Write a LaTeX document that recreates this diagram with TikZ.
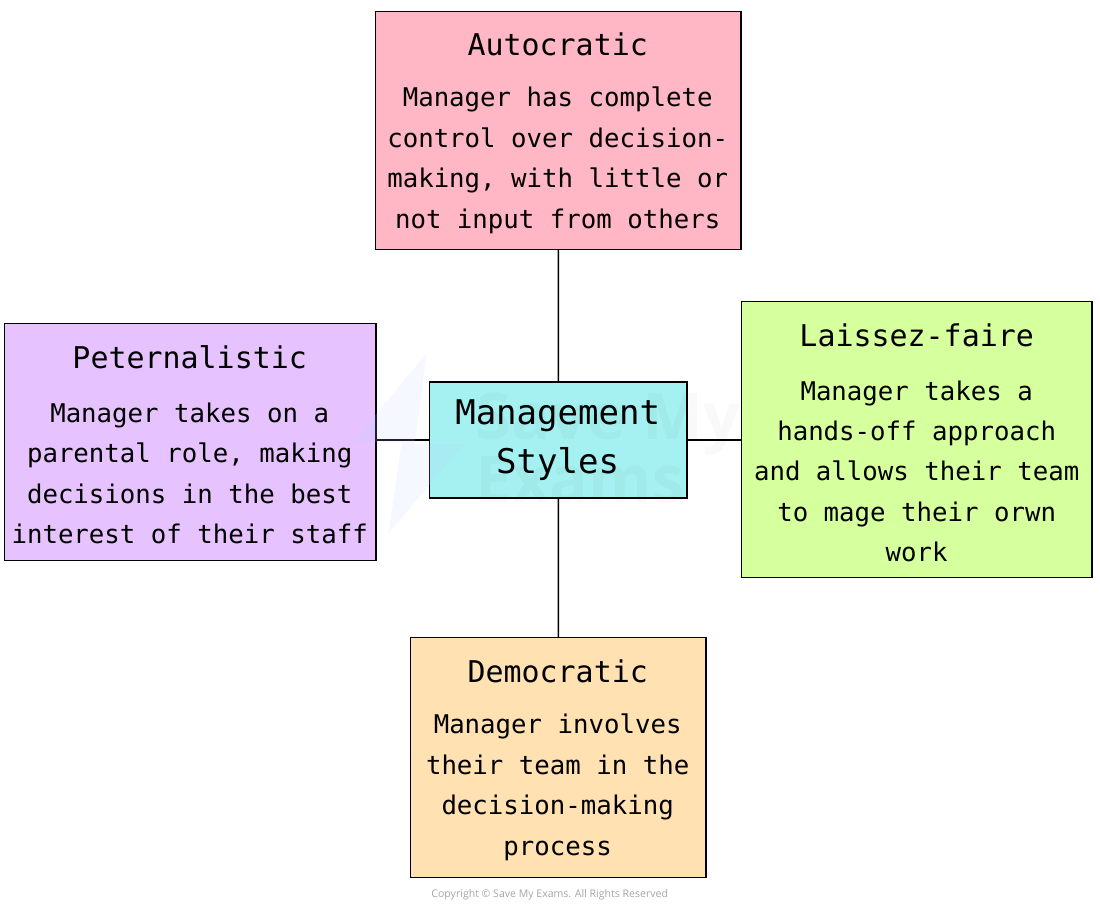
\documentclass[tikz,border=0pt]{standalone}
\usepackage{fontspec}
\setmainfont{DejaVu Sans Mono}
\newfontfamily\markfont{Open Sans}
\definecolor{AutoPink}{RGB}{255, 183, 197}
\definecolor{PaterPurple}{RGB}{230, 195, 255}
\definecolor{LaissezGreen}{RGB}{214, 255, 158}
\definecolor{DemoOrange}{RGB}{255, 225, 178}
\definecolor{CentreCyan}{RGB}{165, 240, 240}
\definecolor{MarkBlue}{RGB}{190, 210, 255}
\usetikzlibrary{positioning}

\tikzset{
    stylebox/.style={draw=black, line width=0.9pt, inner sep=0pt, anchor=north west},
    boxhead/.style={font=\fontsize{21.3}{24}\selectfont, anchor=center},
    boxtext/.style={font=\fontsize{18.3}{28.7}\selectfont, align=center, anchor=center},
    link/.style={draw=black, line width=0.9pt}
}

\begin{document}
\begin{tikzpicture}[x=0.025cm, y=-0.025cm]
    \useasboundingbox (0.3,-0.3) rectangle (1100.3,903.7);

    % boxes
    \node[stylebox, fill=CentreCyan, minimum width=6.425cm, minimum height=2.9cm] (centre) at (429.5,381) {};
    \node[stylebox, fill=AutoPink, minimum width=9.125cm, minimum height=5.95cm] (auto) at (375.5,10.5) {};
    \node[stylebox, fill=PaterPurple, minimum width=9.275cm, minimum height=5.925cm] (pater) at (4.5,322.5) {};
    \node[stylebox, fill=LaissezGreen, minimum width=8.75cm, minimum height=6.9cm] (laissez) at (741.5,300.5) {};
    \node[stylebox, fill=DemoOrange, minimum width=7.375cm, minimum height=6cm] (demo) at (410.5,636.5) {};

    % connectors
    \draw[link] (auto) -- (centre);
    \draw[link] (demo) -- (centre);
    \draw[link] (pater.east |- centre) -- (centre);
    \draw[link] (laissez.west |- centre) -- (centre);

    \node[font=\fontsize{24.2}{34.8}\selectfont, align=center] (centretext) at (558,440) {Management\\Styles};

    \node[boxhead] (autohead) at (558,44) {Autocratic};
    \node[boxtext] (autotext) at (558,160) {Manager has complete\\control over decision-\\making, with little or\\not input from others};

    \node[boxhead] (paterhead) at (190,357) {Peternalistic};
    \node[boxtext] (patertext) at (190,473) {Manager takes on a\\parental role, making\\decisions in the best\\interest of their staff};

    \node[boxhead] (laissezhead) at (917,335) {Laissez-faire};
    \node[boxtext] (laisseztext) at (917,471) {Manager takes a\\hands-off approach\\and allows their team\\to mage their orwn\\work};

    \node[boxhead] (demohead) at (558,671) {Democratic};
    \node[boxtext] (demotext) at (558,787) {Manager involves\\their team in the\\decision-making\\process};

    % faint mark over the boxes
    \fill[MarkBlue, fill opacity=0.16] (427,353) -- (353,442) -- (402,442) -- (389,533) -- (464,444) -- (415,444) -- cycle;
    \node[font=\markfont\bfseries\fontsize{46}{43}\selectfont, text=black, text opacity=0.022, align=left, anchor=north west, inner sep=0pt] (mark) at (476,392) {Save My\\Exams};

    \node[font=\markfont\fontsize{7.5}{10}\selectfont, text=black!35] (copyright) at (550,894) {Copyright © Save My Exams. All Rights Reserved};
\end{tikzpicture}
\end{document}
